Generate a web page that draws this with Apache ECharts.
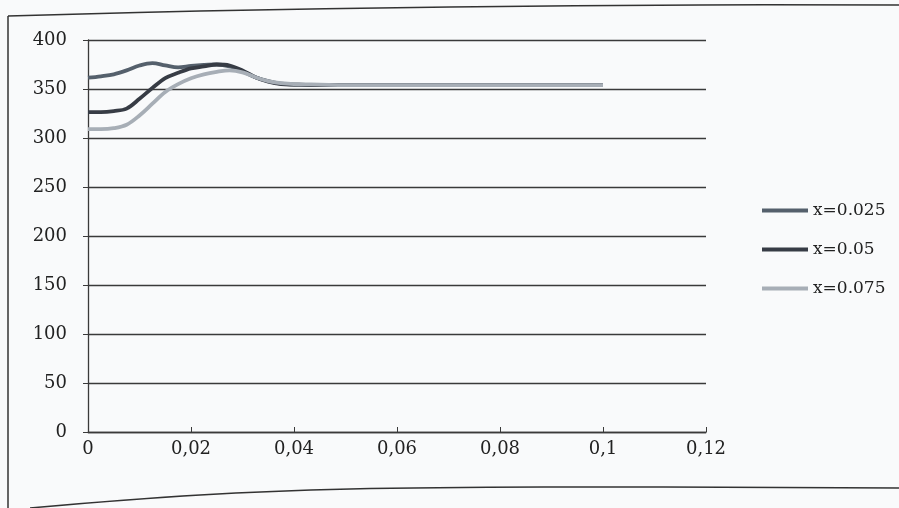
<!DOCTYPE html>
<html>
<head>
<meta charset="utf-8">
<script src="https://cdn.jsdelivr.net/npm/echarts@6/dist/echarts.min.js"></script>
<style>
  html, body { margin: 0; padding: 0; background: #f9fafb; }
  #chart { width: 899px; height: 508px; }
</style>
</head>
<body>
<div id="chart"></div>
<script>
// Time axis samples (s)
const tValues = [0, 0.0025, 0.005, 0.0075, 0.01, 0.0125, 0.015, 0.0175, 0.02, 0.0225,
                 0.025, 0.0275, 0.03, 0.0325, 0.035, 0.0375, 0.04, 0.045, 0.05,
                 0.06, 0.07, 0.08, 0.09, 0.1];

// Temperature at each probe position
const seriesNames = ['x=0.025', 'x=0.05', 'x=0.075'];
const valuesX025 = [361.5, 363, 365, 369, 374, 376.5, 374, 372, 373.5, 374.5,
                    375, 373, 368, 362, 358, 355.5, 354.5, 354, 354,
                    354, 354, 354, 354, 354];
const valuesX050 = [326.5, 326.5, 327.5, 330, 340, 351, 361, 366.5, 371, 373,
                    375, 374, 369, 362, 357.5, 355, 354.5, 354, 354,
                    354, 354, 354, 354, 354];
const valuesX075 = [309, 309, 310, 313.5, 323, 335, 347, 355, 361, 365,
                    367.5, 369, 367, 362, 358, 356, 355, 354.5, 354,
                    354, 354, 354, 354, 354];

const yTicks = { min: 0, max: 400, step: 50 };
const xTicks = { min: 0, max: 0.12, step: 0.02 };

const colors = ['#55606c', '#373c45', '#a7aeb6'];
const fontFamily = '"DejaVu Serif", "Liberation Serif", serif';

function pairs(ys) {
  return tValues.map((t, i) => [t, ys[i]]);
}

const chart = echarts.init(document.getElementById('chart'));

chart.setOption({
  backgroundColor: '#f9fafb',
  animation: false,
  grid: { left: 88, right: 193, top: 40, bottom: 76 },
  legend: {
    orient: 'vertical',
    left: 757,
    top: 197,
    itemWidth: 46,
    itemHeight: 4,
    itemGap: 22,
    icon: 'rect',
    textStyle: { fontFamily: fontFamily, fontSize: 17, color: '#222' },
    data: seriesNames
  },
  xAxis: {
    type: 'value',
    min: xTicks.min,
    max: xTicks.max,
    interval: xTicks.step,
    axisLine: { lineStyle: { color: '#3a3a3a', width: 1.3 } },
    axisTick: { show: true, length: 5, inside: true, lineStyle: { color: '#3a3a3a' } },
    splitLine: { show: false },
    axisLabel: {
      margin: 8,
      fontFamily: fontFamily,
      fontSize: 18,
      color: '#222',
      formatter: v => String(+v.toFixed(2)).replace('.', ',')
    }
  },
  yAxis: {
    type: 'value',
    min: yTicks.min,
    max: yTicks.max,
    interval: yTicks.step,
    axisLine: { show: true, lineStyle: { color: '#3a3a3a', width: 1.3 } },
    axisTick: { show: true, length: 5, lineStyle: { color: '#3a3a3a' } },
    splitLine: { show: true, lineStyle: { color: '#3a3a3a', width: 1.3 } },
    axisLabel: { margin: 21, fontFamily: fontFamily, fontSize: 18, color: '#222' }
  },
  series: [valuesX025, valuesX050, valuesX075].map((vals, i) => ({
    name: seriesNames[i],
    type: 'line',
    data: pairs(vals),
    smooth: 0.35,
    showSymbol: false,
    symbol: 'none',
    color: colors[i],
    lineStyle: { width: 3.8, color: colors[i] }
  })),
  graphic: [
    {
      type: 'polyline',
      shape: { points: [[8, 16], [200, 11], [450, 7], [700, 5], [899, 5]], smooth: 0.4 },
      style: { stroke: '#333', lineWidth: 1.5, fill: null }
    },
    {
      type: 'line',
      shape: { x1: 8, y1: 16, x2: 8, y2: 508 },
      style: { stroke: '#333', lineWidth: 1.5 }
    },
    {
      type: 'polyline',
      shape: { points: [[30, 508], [200, 495], [350, 489], [550, 487], [899, 488]], smooth: 0.4 },
      style: { stroke: '#333', lineWidth: 1.5, fill: null }
    }
  ]
});
</script>
</body>
</html>
